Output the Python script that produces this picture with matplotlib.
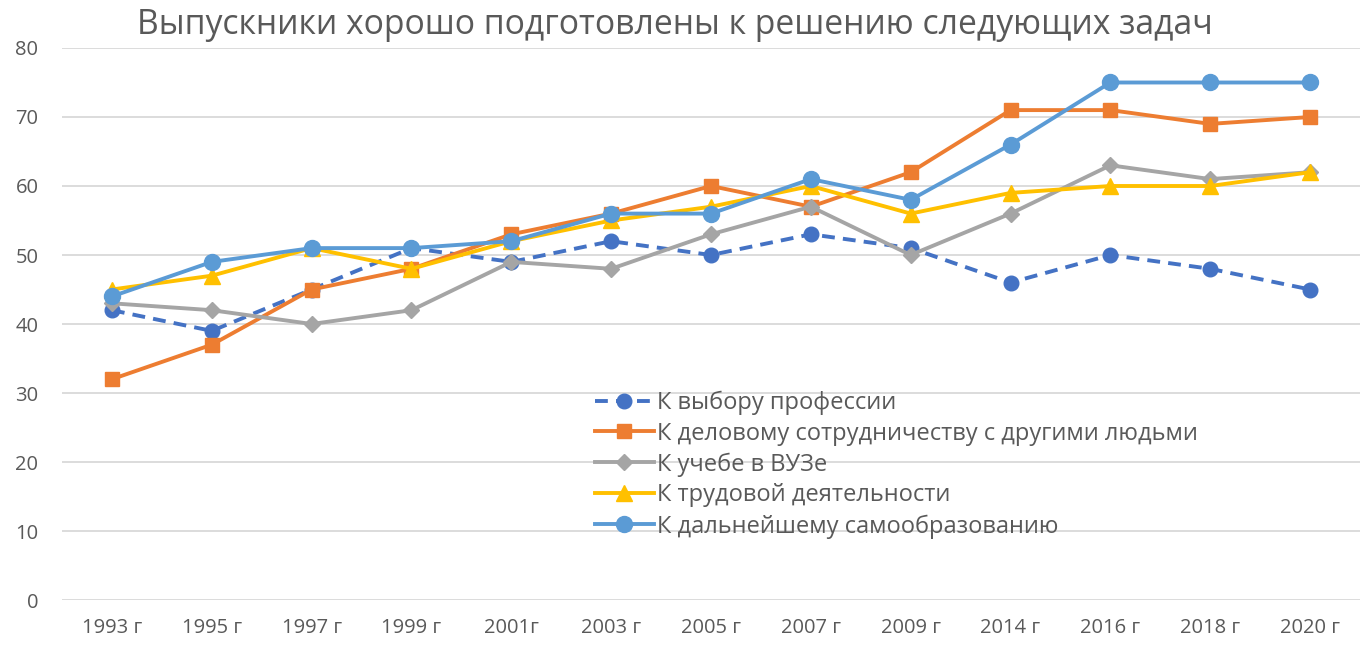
import matplotlib.pyplot as plt

plt.rcParams['font.family'] = ['Open Sans', 'DejaVu Sans']

years = ['1993 г', '1995 г', '1997 г', '1999 г', '2001г', '2003 г', '2005 г',
         '2007 г', '2009 г', '2014 г', '2016 г', '2018 г', '2020 г']

profession = [42, 39, 45, 51, 49, 52, 50, 53, 51, 46, 50, 48, 45]
cooperation = [32, 37, 45, 48, 53, 56, 60, 57, 62, 71, 71, 69, 70]
university = [43, 42, 40, 42, 49, 48, 53, 57, 50, 56, 63, 61, 62]
work = [45, 47, 51, 48, 52, 55, 57, 60, 56, 59, 60, 60, 62]
self_edu = [44, 49, 51, 51, 52, 56, 56, 61, 58, 66, 75, 75, 75]

labels = ['К выбору профессии',
          'К деловому сотрудничеству с другими людьми',
          'К учебе в ВУЗе',
          'К трудовой деятельности',
          'К дальнейшему самообразованию']

fig = plt.figure(figsize=(13.6, 6.46), dpi=100)
ax = fig.add_axes([0.0456, 0.0712, 0.9544, 0.8545])

x = list(range(len(years)))
lw = 2.8

ax.plot(x, profession, color='#4472C4', lw=lw, dashes=(3.3, 2.1),
        marker='o', ms=10.5, label=labels[0])
ax.plot(x, cooperation, color='#ED7D31', lw=lw,
        marker='s', ms=10.5, label=labels[1])
ax.plot(x, university, color='#A5A5A5', lw=lw,
        marker='D', ms=8, label=labels[2])
ax.plot(x, work, color='#FFC000', lw=lw,
        marker='^', ms=11, label=labels[3])
ax.plot(x, self_edu, color='#5B9BD5', lw=lw,
        marker='o', ms=11.5, label=labels[4])

ax.set_xlim(-0.5, len(years) - 0.5)
ax.set_ylim(0, 80)
ax.set_yticks(range(0, 81, 10))
ax.set_xticks(x)
ax.set_xticklabels(years)
ax.tick_params(axis='both', length=0, labelsize=14.5, colors='#595959')
ax.tick_params(axis='x', pad=13)
ax.tick_params(axis='y', pad=17)
ax.grid(axis='y', color='#D9D9D9', lw=1.3)
ax.set_axisbelow(True)
for s in ax.spines.values():
    s.set_visible(False)

fig.text(0.496, 0.961, 'Выпускники хорошо подготовлены к решению следующих задач',
         ha='center', va='center', fontsize=24.3, color='#595959')

leg = ax.legend(loc='upper left', bbox_to_anchor=(0.394, 0.418), frameon=False,
                fontsize=17, handlelength=2.5, labelspacing=0.285,
                handletextpad=0.15, labelcolor='#595959')

fig.savefig('out.png', dpi=100)
